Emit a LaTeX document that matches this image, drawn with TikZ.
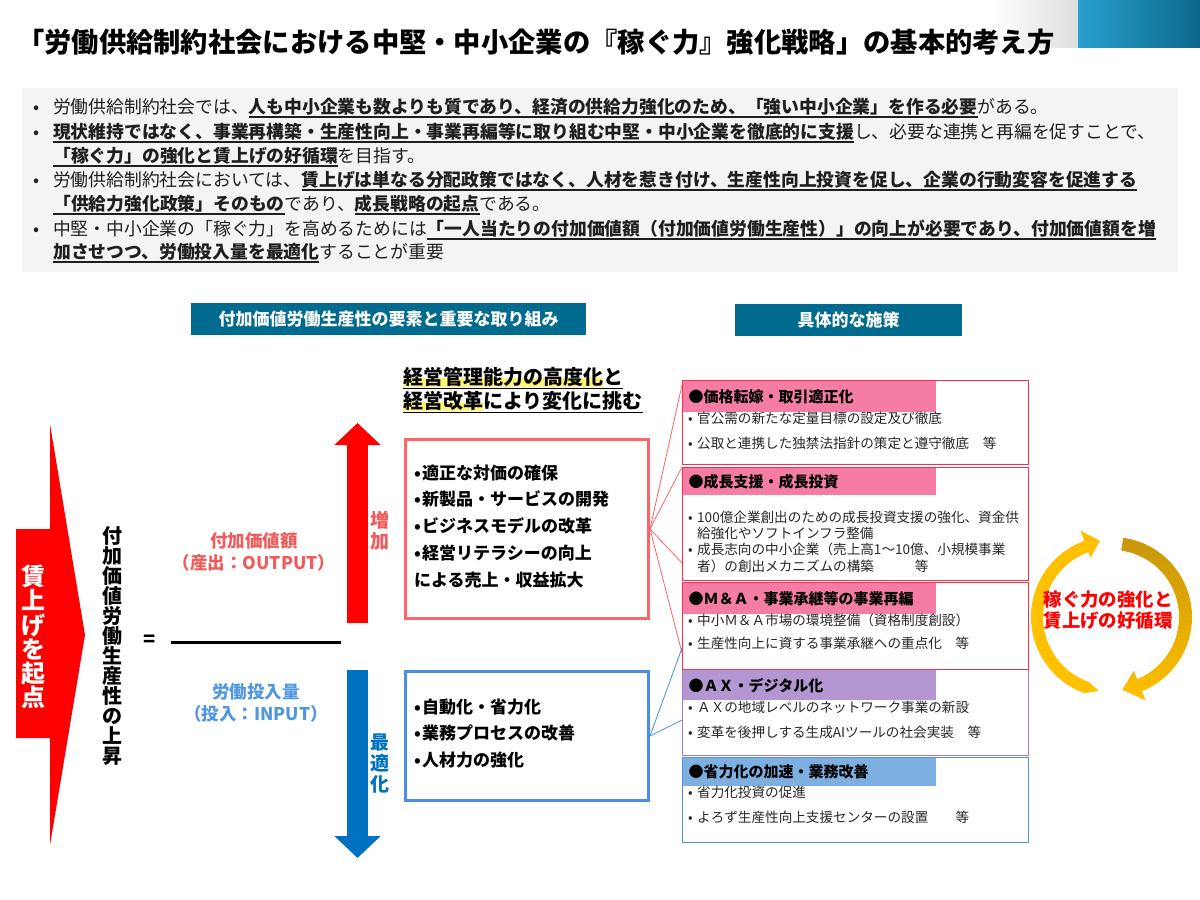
\documentclass[tikz,border=0pt]{standalone}
\usepackage{fontspec}
\setmainfont{Noto Sans CJK JP}
\usetikzlibrary{arrows.meta}

\definecolor{headblue}{RGB}{0,107,143}
\definecolor{barcyan}{RGB}{40,160,205}
\definecolor{bardeep}{RGB}{12,104,140}
\definecolor{panelgray}{RGB}{242,244,246}
\definecolor{upred}{RGB}{255,0,0}
\definecolor{outred}{RGB}{242,90,90}
\definecolor{downblue}{RGB}{0,112,192}
\definecolor{inblue}{RGB}{80,150,225}
\definecolor{boxred}{RGB}{255,100,105}
\definecolor{boxblue}{RGB}{74,144,226}
\definecolor{edgered}{RGB}{240,50,80}
\definecolor{edgepurple}{RGB}{165,120,200}
\definecolor{edgeblue}{RGB}{80,145,220}
\definecolor{tagpink}{RGB}{245,125,165}
\definecolor{tagpurple}{RGB}{180,150,210}
\definecolor{tagblue}{RGB}{125,175,225}
\definecolor{markyellow}{RGB}{255,245,110}
\definecolor{gold}{RGB}{255,192,0}
\definecolor{darkgold}{RGB}{200,150,10}

\newcommand\ulb[1]{\sbox0{\bfseries#1}\rlap{\rule[-0.22em]{\wd0}{1.3pt}}\usebox0}
\newcommand\yellowmark[1]{\sbox1{#1}\rlap{\textcolor{markyellow}{\rule[-0.12em]{\wd1}{0.45em}}}\usebox1}

\tikzstyle{row}=[inner sep=0pt,
                 anchor=west,
                 text=black!88,
                 font=\fontsize{17.8}{20}\selectfont]
\tikzstyle{banner}=[fill=headblue,
                    text=white,
                    inner sep=0pt,
                    minimum height=32pt,
                    font=\bfseries\fontsize{17}{20}\selectfont]
\tikzstyle{keybox}=[draw,
                    line width=3pt,
                    inner sep=0pt,
                    anchor=north west,
                    minimum width=243pt]
\tikzstyle{keyrow}=[inner sep=0pt,
                    anchor=west,
                    font=\bfseries\fontsize{17}{20}\selectfont]
\tikzstyle{upright}=[inner sep=0pt,
                     align=center]
\tikzstyle{measure}=[draw,
                     line width=1pt,
                     inner sep=0pt,
                     anchor=north west,
                     minimum width=346pt]
\tikzstyle{tag}=[inner xsep=6pt,
                 inner ysep=0pt,
                 anchor=north west,
                 text width=241pt,
                 align=left,
                 font=\bfseries\fontsize{15}{17}\selectfont]
\tikzstyle{item}=[inner sep=0pt,
                  anchor=west,
                  text=black!85,
                  font=\fontsize{13.6}{16}\selectfont]
\tikzstyle{fat}=[line width=21pt,
                 -{Triangle[width=45pt,length=22pt]}]
\tikzstyle{wire}=[line width=0.8pt]

\begin{document}
\begin{tikzpicture}[x=1pt,y=-1pt]
      \useasboundingbox (0,0) rectangle (1200,900);

      \shade[left color=white, right color=black!13] (990,0) rectangle (1078,47);
      \shade[left color=barcyan, right color=bardeep] (1078,0) rectangle (1200,47);
      \node[anchor=west, inner sep=0pt, font=\bfseries\fontsize{27.3}{30}\selectfont] (title) at (17,42)
            {「労働供給制約社会における中堅・中小企業の『稼ぐ力』強化戦略」の基本的考え方};

      \fill[panelgray] (22,88) rectangle (1178,272);
      \node[row] (intro_a) at (33,108) {\makebox[20pt][l]{•}労働供給制約社会では、\ulb{人も中小企業も数よりも質であり、経済の供給力強化のため、「強い中小企業」を作る必要}がある。};
      \node[row] (intro_b) at (33,133) {\makebox[20pt][l]{•}\ulb{現状維持ではなく、事業再構築・生産性向上・事業再編等に取り組む中堅・中小企業を徹底的に支援}し、必要な連携と再編を促すことで、};
      \node[row] (intro_c) at (53,157) {\ulb{「稼ぐ力」の強化と賃上げの好循環}を目指す。};
      \node[row] (intro_d) at (33,181) {\makebox[20pt][l]{•}労働供給制約社会においては、\ulb{賃上げは単なる分配政策ではなく、人材を惹き付け、生産性向上投資を促し、企業の行動変容を促進する}};
      \node[row] (intro_e) at (53,205) {\ulb{「供給力強化政策」そのもの}であり、\ulb{成長戦略の起点}である。};
      \node[row] (intro_f) at (33,230) {\makebox[20pt][l]{•}中堅・中小企業の「稼ぐ力」を高めるためには\ulb{「一人当たりの付加価値額（付加価値労働生産性）」の向上が必要であり、付加価値額を増}};
      \node[row] (intro_g) at (53,253) {\ulb{加させつつ、労働投入量を最適化}することが重要};

      \node[banner, minimum width=395pt] (elements) at (388.5,319) {付加価値労働生産性の要素と重要な取り組み};
      \node[banner, minimum width=227pt] (measures) at (848.5,320) {具体的な施策};

      \fill[upred] (16,529) -- (50,529) -- (50,424) -- (85,635) -- (50,845) -- (50,738) -- (16,738) -- cycle;
      \node[upright, text=white, font=\bfseries\fontsize{24}{24.2}\selectfont] (start) at (33,637) {賃\\上\\げ\\を\\起\\点};
      \node[upright, font=\bfseries\fontsize{20}{20}\selectfont] (ratio) at (112,646)
            {付\\加\\価\\値\\労\\働\\生\\産\\性\\の\\上\\昇};
      \node[inner sep=0pt, font=\bfseries\fontsize{20}{22}\selectfont] (equals) at (150,641) {=};
      \draw[line width=3pt] (171,642) -- (341,642);
      \node[upright, text=outred, font=\bfseries\fontsize{17.5}{22}\selectfont] (output) at (254,552) {付加価値額\\（産出：OUTPUT）};
      \node[upright, text=inblue, font=\bfseries\fontsize{17.5}{22}\selectfont] (input) at (256,703) {労働投入量\\（投入：INPUT）};

      \draw[fat, upred] (357.5,623) -- (357.5,423);
      \draw[fat, downblue] (357.5,670) -- (357.5,858);
      \node[upright, text=outred, font=\bfseries\fontsize{19}{21}\selectfont] (rise) at (380,531) {増\\加};
      \node[upright, text=downblue, font=\bfseries\fontsize{19}{21}\selectfont] (trim) at (380,764) {最\\適\\化};

      \node[anchor=west, inner sep=0pt, font=\bfseries\fontsize{20}{22}\selectfont] (mgmt_a) at (403,378) {\ulb{\yellowmark{経営管理能力の高度化}と}};
      \node[anchor=west, inner sep=0pt, font=\bfseries\fontsize{20}{22}\selectfont] (mgmt_b) at (403,402) {\ulb{\yellowmark{経営改革}により変化に挑む}};

      \node[keybox, draw=boxred, minimum height=179pt] (gain_box) at (404,438) {};
      \node[keyrow] (gain_a) at (414,473) {\makebox[8pt][l]{•}適正な対価の確保};
      \node[keyrow] (gain_b) at (414,499) {\makebox[8pt][l]{•}新製品・サービスの開発};
      \node[keyrow] (gain_c) at (414,526) {\makebox[8pt][l]{•}ビジネスモデルの改革};
      \node[keyrow] (gain_d) at (414,553) {\makebox[8pt][l]{•}経営リテラシーの向上};
      \node[keyrow] (gain_e) at (414,580) {による売上・収益拡大};

      \node[keybox, draw=boxblue, minimum height=129pt] (ease_box) at (404,670) {};
      \node[keyrow] (ease_a) at (414,707) {\makebox[8pt][l]{•}自動化・省力化};
      \node[keyrow] (ease_b) at (414,733) {\makebox[8pt][l]{•}業務プロセスの改善};
      \node[keyrow] (ease_c) at (414,760) {\makebox[8pt][l]{•}人材力の強化};

      \node[measure, draw=edgepurple, minimum height=86pt] (ax_box)    at (682,669) {};
      \node[measure, draw=edgeblue,   minimum height=85pt] (save_box)  at (682,757) {};
      \node[measure, draw=edgered,    minimum height=84pt] (price_box) at (682,380) {};
      \node[measure, draw=edgered,    minimum height=113pt] (grow_box) at (682,467) {};
      \node[measure, draw=edgered,    minimum height=87pt] (ma_box)    at (682,582) {};

      \node[tag, fill=tagpink,   minimum height=31pt] (price_head) at (682.5,381) {●価格転嫁・取引適正化};
      \node[tag, fill=tagpink,   minimum height=27pt] (grow_head)  at (682.5,468) {●成長支援・成長投資};
      \node[tag, fill=tagpink,   minimum height=31pt] (ma_head)    at (682.5,583) {●Ｍ＆Ａ・事業承継等の事業再編};
      \node[tag, fill=tagpurple, minimum height=30pt] (ax_head)    at (682.5,670) {●ＡＸ・デジタル化};
      \node[tag, fill=tagblue,   minimum height=28pt] (save_head)  at (682.5,758) {●省力化の加速・業務改善};

      \node[item] (price_a) at (688,418) {\makebox[9pt][l]{•}官公需の新たな定量目標の設定及び徹底};
      \node[item] (price_b) at (688,443) {\makebox[9pt][l]{•}公取と連携した独禁法指針の策定と遵守徹底　等};
      \node[item] (grow_a)  at (688,517) {\makebox[9pt][l]{•}100億企業創出のための成長投資支援の強化、資金供};
      \node[item] (grow_b)  at (697,533) {給強化やソフトインフラ整備};
      \node[item] (grow_c)  at (688,549) {\makebox[9pt][l]{•}成長志向の中小企業（売上高1～10億、小規模事業};
      \node[item] (grow_d)  at (697,566) {者）の創出メカニズムの構築　　　等};
      \node[item] (ma_a)    at (688,620) {\makebox[9pt][l]{•}中小Ｍ＆Ａ市場の環境整備（資格制度創設）};
      \node[item] (ma_b)    at (688,643) {\makebox[9pt][l]{•}生産性向上に資する事業承継への重点化　等};
      \node[item] (ax_a)    at (688,707) {\makebox[9pt][l]{•}ＡＸの地域レベルのネットワーク事業の新設};
      \node[item] (ax_b)    at (688,732) {\makebox[9pt][l]{•}変革を後押しする生成AIツールの社会実装　等};
      \node[item] (save_a)  at (688,792) {\makebox[9pt][l]{•}省力化投資の促進};
      \node[item] (save_b)  at (688,817) {\makebox[9pt][l]{•}よろず生産性向上支援センターの設置　　等};

      \coordinate (hook_a) at (682,385);
      \coordinate (hook_b) at (682,467);
      \coordinate (hook_c) at (682,563);
      \coordinate (hook_d) at (682,653);
      \coordinate (hook_e) at (682,648);
      \coordinate (hook_f) at (682,720);
      \draw[wire, boxred] (gain_box.east) -- (hook_a);
      \draw[wire, boxred] (gain_box.east) -- (hook_b);
      \draw[wire, boxred] (gain_box.east) -- (hook_c);
      \draw[wire, boxred] (gain_box.east) -- (hook_d);
      \draw[wire, boxblue] (ease_box.east) -- (hook_e);
      \draw[wire, boxblue] (ease_box.east) -- (hook_f);

      \begin{scope}[shift={(1112,617)}]
        \fill[gold] (100:75) -- (110:81) arc[start angle=110, end angle=250, radius=81]
              -- (250:92) -- (261:77) -- (250:63) -- (250:69) arc[start angle=250, end angle=110, radius=69] -- cycle;
        \shade[top color=darkgold, bottom color=gold] (278:80) arc[start angle=278, end angle=428, radius=80]
              -- (428:90) -- (442:73.5) -- (428:58) -- (428:67) arc[start angle=428, end angle=278, radius=67] -- cycle;
      \end{scope}
      \node[upright, text=upred, font=\bfseries\fontsize{18.4}{20.5}\selectfont] (cycle) at (1108,610) {稼ぐ力の強化と\\賃上げの好循環};
    \end{tikzpicture}
\end{document}
